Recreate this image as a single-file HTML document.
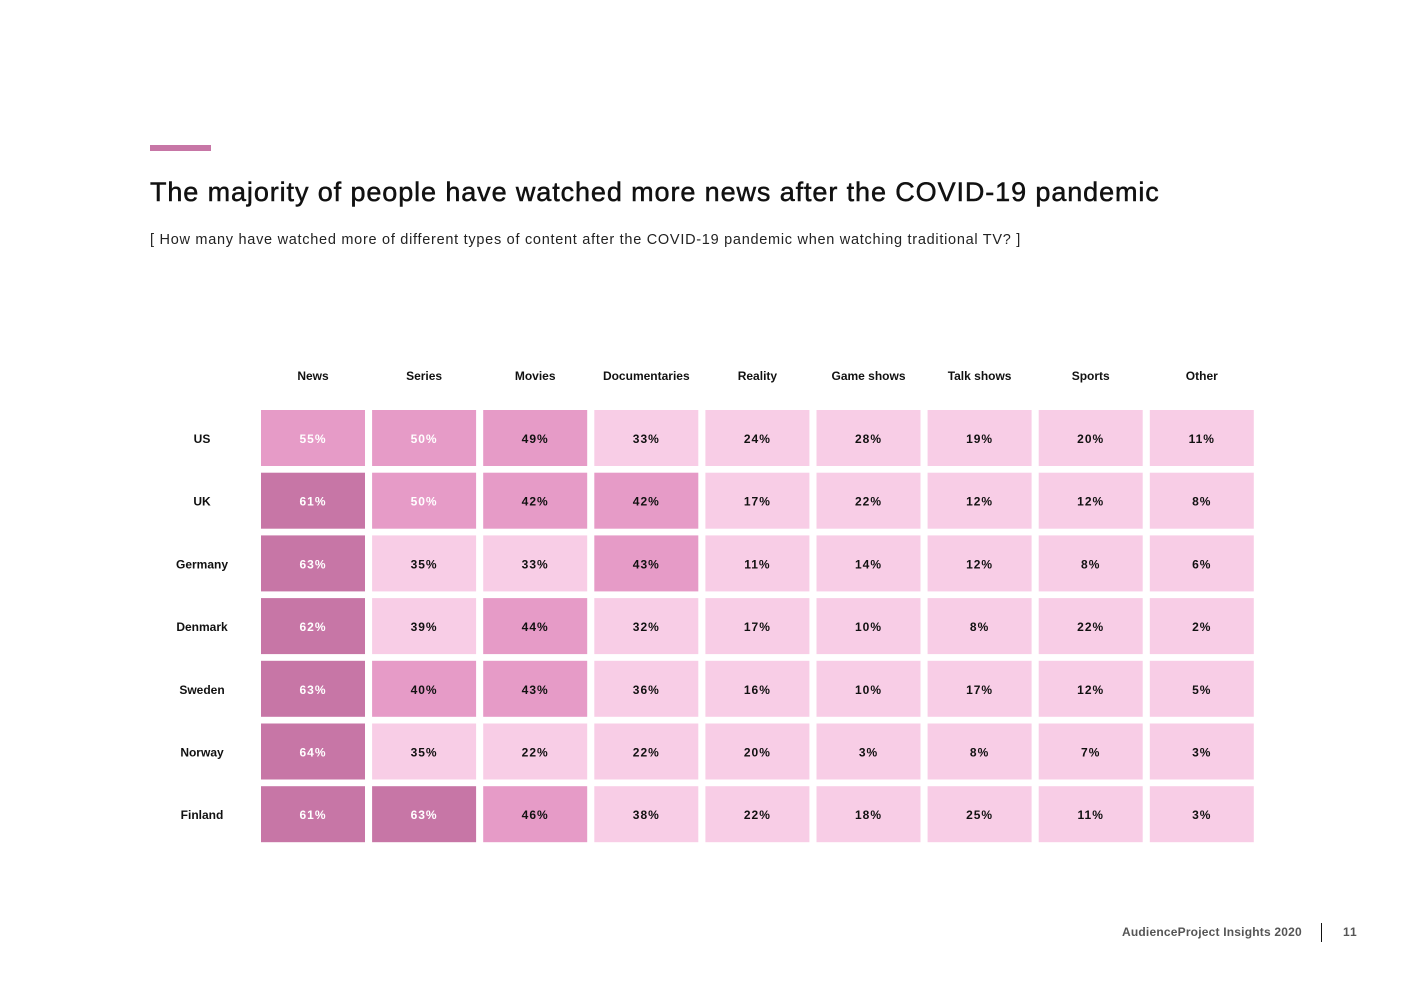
<!DOCTYPE html>
<html><head><meta charset="utf-8"><style>
body{margin:0;width:1403px;height:992px;background:#fff;font-family:"Liberation Sans",sans-serif;position:relative;overflow:hidden}
.abs{position:absolute}
</style></head><body>
<div class="abs" style="left:150px;top:145px;width:61px;height:6px;background:#c776a6"></div>
<div class="abs" style="left:150px;top:177px;font-size:27px;color:#111;letter-spacing:0.9px;-webkit-text-stroke:0.5px #111">The majority of people have watched more news after the COVID-19 pandemic</div>
<div class="abs" style="left:150px;top:232px;font-size:14.5px;color:#222;letter-spacing:0.72px">[ How many have watched more of different types of content after the COVID-19 pandemic when watching traditional TV? ]</div>
<svg id="chart" class="abs" style="left:0;top:0" width="1403" height="992"></svg>
<div class="abs" style="left:1122px;top:925px;font-size:12px;font-weight:bold;color:#555;letter-spacing:0.2px">AudienceProject Insights 2020</div>
<div class="abs" style="left:1321px;top:923px;width:1px;height:19px;background:#111"></div>
<div class="abs" style="left:1343px;top:925px;font-size:12px;font-weight:bold;color:#555;letter-spacing:1px">11</div>
<script>
const categories=["News","Series","Movies","Documentaries","Reality","Game shows","Talk shows","Sports","Other"];
const countries=["US","UK","Germany","Denmark","Sweden","Norway","Finland"];
const values=[
[55,50,49,33,24,28,19,20,11],
[61,50,42,42,17,22,12,12,8],
[63,35,33,43,11,14,12,8,6],
[62,39,44,32,17,10,8,22,2],
[63,40,43,36,16,10,17,12,5],
[64,35,22,22,20,3,8,7,3],
[61,63,46,38,22,18,25,11,3]];
const svg=document.getElementById('chart');
const NS='http://www.w3.org/2000/svg';
const xPos=i=>261+i*111.1, yPos=j=>410+j*62.7, cw=104, ch=56;
function color(v){return v>=60?'#c776a6':v>=40?'#e69bc7':'#f8cde6';}
function mk(t,a){const e=document.createElementNS(NS,t);for(const k in a)e.setAttribute(k,a[k]);svg.appendChild(e);return e;}
categories.forEach((c,i)=>{
 const t=mk('text',{x:xPos(i)+cw/2,y:380,'text-anchor':'middle','font-size':12,'font-weight':'bold',fill:'#111','font-family':'Liberation Sans, sans-serif'});
 t.textContent=c;
 
 
});
countries.forEach((c,j)=>{
 const t=mk('text',{x:202,y:yPos(j)+ch/2+5,'text-anchor':'middle','font-size':12,'font-weight':'bold',fill:'#111','font-family':'Liberation Sans, sans-serif'});
 t.textContent=c;
 
 
 values[j].forEach((v,i)=>{
  const r=mk('rect',{x:xPos(i),y:yPos(j),width:cw,height:ch,fill:color(v)});
  
  
  const tx=mk('text',{x:xPos(i)+cw/2,y:yPos(j)+ch/2+5,'text-anchor':'middle','font-size':12,'font-weight':'bold','letter-spacing':1,fill:v>=50?'#fff':'#111','font-family':'Liberation Sans, sans-serif'});
  tx.textContent=v+'%';
  
  
 });
});
</script>
</body></html>
